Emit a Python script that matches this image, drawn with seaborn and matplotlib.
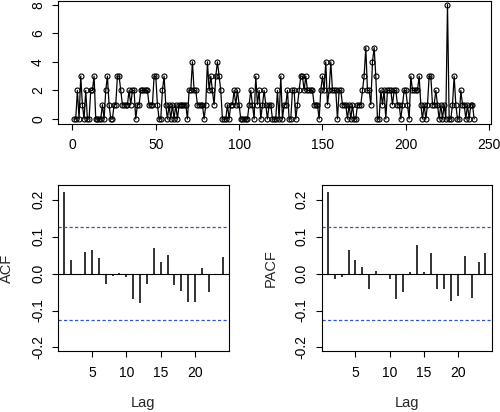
import numpy as np
import pandas as pd
import matplotlib
matplotlib.use("Agg")
import matplotlib.pyplot as plt
import seaborn as sns

# ---- data ----
series_values = [
    0, 0, 2, 0, 3, 1, 0, 2, 0, 0, 2, 2, 3, 0, 0, 0, 0, 1, 0, 2,
    3, 1, 0, 0, 1, 1, 3, 3, 2, 1, 1, 1, 1, 2, 1, 2, 2, 0, 1, 1,
    2, 2, 2, 2, 2, 1, 1, 1, 3, 3, 1, 0,
    0, 2, 3, 1, 0, 1, 0, 1, 0, 1, 0, 1, 1, 1, 1, 1, 0, 2, 2, 4,
    2, 2, 1, 1, 1, 1, 0, 1, 4, 2, 3, 2, 1, 3, 4, 3, 2, 0, 0, 0,
    1, 0, 1, 1, 2, 1, 2, 1, 0, 0, 0, 0, 0, 1, 2, 1, 0, 3, 1, 2,
    0, 1, 2, 1, 0,
    1, 1, 0, 0, 0, 2, 0, 3, 0, 1, 1, 2, 0, 0, 2, 2, 0, 1, 2, 3,
    3, 2, 3, 2, 2, 2, 2, 1, 1, 1, 0, 2, 3, 2, 4, 1, 2, 4, 2, 2,
    2, 0, 2, 2, 1, 1, 1, 0, 1, 0, 1, 0, 0, 1, 1, 1, 2, 3, 5, 2,
    2, 1, 4, 5, 3, 0, 0,
    2, 1, 2, 0, 2, 2, 2, 1, 2, 2, 1, 1, 0, 1, 2, 2, 1, 0, 3, 2,
    2, 2, 2, 3, 1, 0, 1, 0, 1, 3, 3, 1, 1, 2, 1, 0, 1, 0, 1, 0,
    8, 0, 0, 1, 3, 1, 0, 0, 2, 1, 1, 0, 1, 0, 1, 1, 0,
]
time_index = list(range(1, len(series_values) + 1))

lags = list(range(1, 25))
acf_values = [0.222, 0.036, -0.003, 0.059, 0.063, 0.041, -0.027, -0.006,
              0.001, -0.009, -0.070, -0.079, -0.028, 0.070, 0.030, 0.049,
              -0.031, -0.048, -0.078, -0.077, 0.014, -0.049, -0.001, 0.044]
pacf_values = [0.222, -0.014, -0.010, 0.065, 0.038, 0.019, -0.041, 0.007,
               -0.005, -0.014, -0.068, -0.050, 0.005, 0.078, 0.004, 0.056,
               -0.041, -0.042, -0.074, -0.061, 0.048, -0.066, 0.032, 0.056]
conf_bound = 0.126

top_xticks = [0, 50, 100, 150, 200, 250]
top_yticks = [0, 2, 4, 6, 8]
lag_ticks = [5, 10, 15, 20]
corr_ticks = [-0.2, -0.1, 0.0, 0.1, 0.2]

# ---- style ----
sns.set_style("ticks")
plt.rcParams["font.family"] = ["Liberation Sans", "DejaVu Sans"]
plt.rcParams["axes.unicode_minus"] = False
plt.rcParams["font.size"] = 10

W, H = 500, 412
fig = plt.figure(figsize=(W / 100, H / 100), dpi=100)


def px_axes(x0, x1, y0, y1):
    return fig.add_axes([x0 / W, 1 - y1 / H, (x1 - x0) / W, (y1 - y0) / H])


def style_axes(ax, pad_x=6.4, pad_y=5.0):
    for s in ax.spines.values():
        s.set_visible(True)
        s.set_linewidth(0.8)
        s.set_color("black")
    ax.tick_params(axis="both", direction="out", length=4.3, width=0.8,
                   colors="black", labelsize=10)
    ax.tick_params(axis="x", pad=pad_x)
    ax.tick_params(axis="y", pad=pad_y)
    for lab in ax.get_yticklabels():
        lab.set_rotation(90)
        lab.set_va("center")


# ---- top: series ----
ax0 = px_axes(58, 491, 0.5, 123.6)
df = pd.DataFrame({"t": time_index, "y": series_values})
sns.lineplot(data=df, x="t", y="y", ax=ax0, color="black", linewidth=0.9,
             marker="o", markersize=3.6, markerfacecolor="none",
             markeredgecolor="black", markeredgewidth=0.8)
ax0.set_xlim(-8.64, 251.1)
ax0.set_ylim(-0.32, 8.29)
ax0.set_xticks(top_xticks)
ax0.set_yticks(top_yticks)
ax0.set_xlabel("")
ax0.set_ylabel("")
style_axes(ax0)


def corr_panel(ax, values, ylab):
    ax.vlines(lags, 0, values, color="#222222", linewidth=1.3)
    ax.axhline(0, color="black", linewidth=0.8)
    for b in (conf_bound, -conf_bound):
        ax.axhline(b, color="#3355cc", linewidth=0.9, linestyle=(0, (2.6, 1.8)))
    ax.set_xlim(0.08, 24.92)
    ax.set_ylim(-0.2103, 0.2397)
    ax.set_xticks(lag_ticks)
    ax.set_yticks(corr_ticks)
    ax.set_yticklabels([f"{v:.1f}" for v in corr_ticks])
    style_axes(ax)
    ax.set_xlabel("Lag", fontsize=10.5, va="center")
    ax.set_ylabel(ylab, fontsize=10.5, va="center")


ax1 = px_axes(58, 229, 185, 351.3)
corr_panel(ax1, acf_values, "ACF")
ax1.xaxis.set_label_coords(143.5 / W, 1 - 403 / H, transform=fig.transFigure)
ax1.yaxis.set_label_coords(7 / W, 1 - 268 / H, transform=fig.transFigure)

ax2 = px_axes(321.7, 491.7, 185, 351.3)
corr_panel(ax2, pacf_values, "PACF")
ax2.xaxis.set_label_coords(406.7 / W, 1 - 403 / H, transform=fig.transFigure)
ax2.yaxis.set_label_coords(271 / W, 1 - 268 / H, transform=fig.transFigure)

fig.savefig("out.png", dpi=100)
